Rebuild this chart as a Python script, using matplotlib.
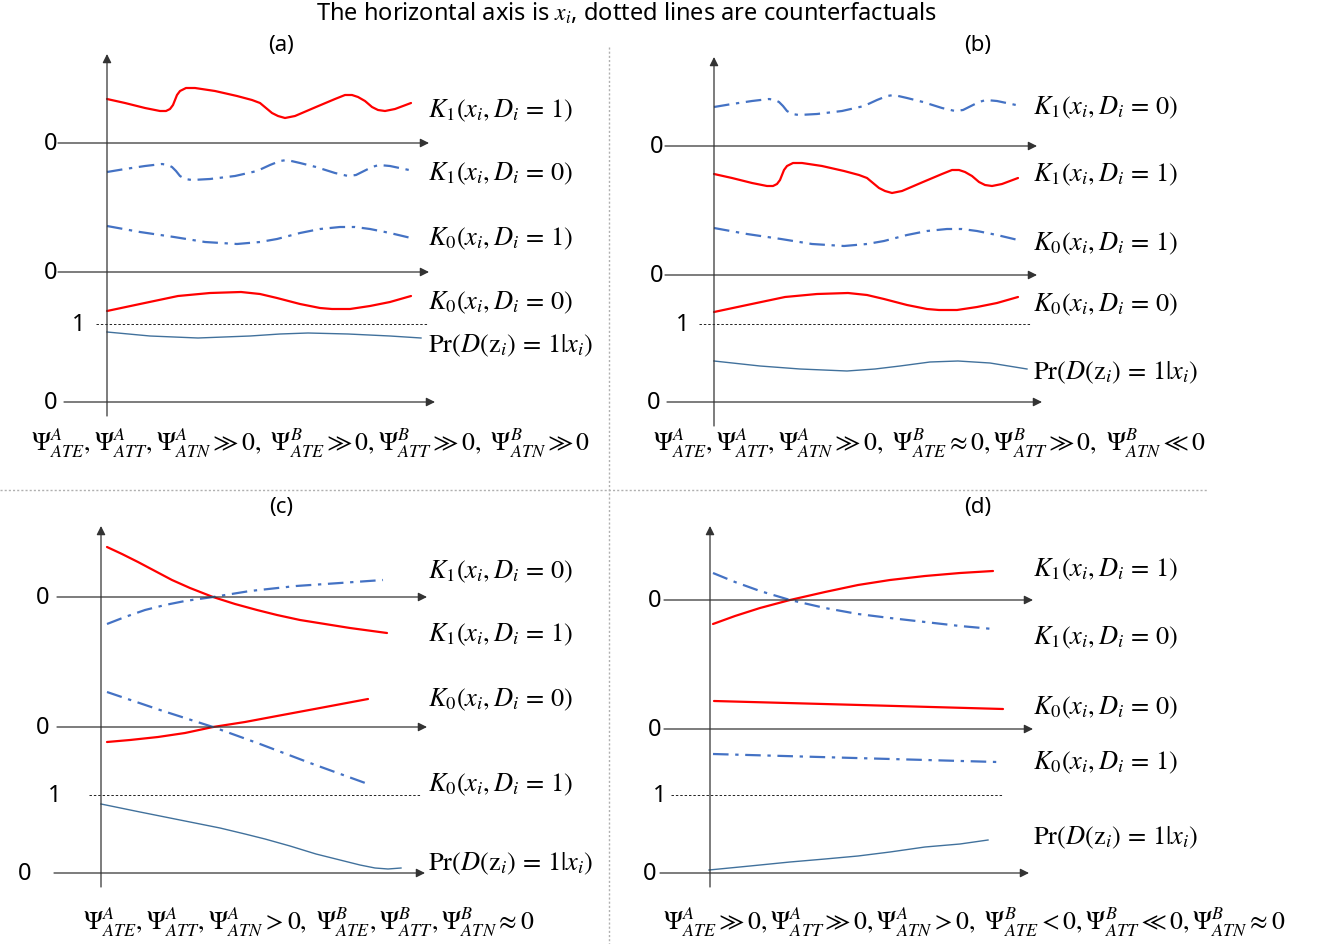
import matplotlib
matplotlib.use("Agg")
import matplotlib.pyplot as plt

plt.rcParams['font.family'] = ['Noto Sans', 'DejaVu Sans']
plt.rcParams['mathtext.fontset'] = 'stix'

# ---- curve data (x along the x_i axis, y = vertical position, image units) ----
# panel (a)
a_k1_d1 = [(107, 100), (125, 104), (145, 109), (160, 112), (166, 112), (170, 110), (173, 106),
           (175, 101), (177, 96), (180, 92), (186, 89), (195, 89), (215, 92), (237, 97),
           (252, 101), (260, 104), (266, 109), (272, 114), (278, 117), (285, 119), (295, 117),
           (316, 108), (335, 100), (345, 96), (352, 96), (358, 98), (365, 102), (372, 108),
           (378, 111), (385, 112), (395, 110), (411, 104)]
a_k1_d0 = [(107, 173), (125, 170), (145, 167), (162, 165), (168, 166), (172, 168), (176, 172),
           (180, 177), (185, 180), (192, 181), (210, 180), (235, 177), (257, 172), (270, 166),
           (280, 162), (287, 161), (300, 164), (316, 168), (335, 174), (348, 177), (356, 176),
           (364, 172), (372, 168), (379, 166), (390, 167), (409, 171)]
a_k0_d1 = [(107, 227), (140, 233), (174, 238), (205, 243), (237, 245), (260, 243), (277, 240),
           (300, 234), (320, 230), (340, 228), (355, 228), (370, 230), (390, 234), (411, 239)]
a_k0_d0 = [(107, 312), (140, 305), (178, 297), (210, 294), (241, 293), (260, 295), (277, 299),
           (300, 305), (320, 309), (332, 310), (350, 310), (370, 307), (390, 303), (411, 297)]
a_pr = [(107, 333), (150, 337), (198, 339), (250, 337), (280, 335), (308, 334), (348, 335),
        (390, 337), (421, 339)]

# panel (b)
b_k1_d0 = [(714, 108), (732, 105), (752, 102), (769, 100), (775, 101), (779, 103), (783, 107),
           (787, 112), (792, 115), (799, 116), (817, 115), (842, 112), (864, 107), (877, 101),
           (887, 97), (894, 96), (907, 99), (923, 103), (942, 109), (955, 112), (963, 111),
           (971, 107), (979, 103), (986, 101), (997, 102), (1016, 106)]
b_k1_d1 = [(714, 175), (732, 179), (752, 184), (767, 187), (773, 187), (777, 185), (780, 181),
           (782, 176), (784, 171), (787, 167), (793, 164), (802, 164), (822, 167), (844, 172),
           (859, 176), (867, 179), (873, 184), (879, 189), (885, 192), (892, 194), (902, 192),
           (923, 183), (942, 175), (952, 171), (959, 171), (965, 173), (972, 177), (979, 183),
           (985, 186), (992, 187), (1002, 185), (1018, 179)]
b_k0_d1 = [(714, 229), (747, 235), (781, 240), (812, 245), (844, 247), (867, 245), (884, 242),
           (907, 236), (927, 232), (947, 230), (962, 230), (977, 232), (997, 236), (1018, 241)]
b_k0_d0 = [(714, 313), (747, 306), (785, 298), (817, 295), (848, 294), (867, 296), (884, 300),
           (907, 306), (927, 310), (939, 311), (957, 311), (977, 308), (997, 304), (1018, 298)]
b_pr = [(714, 362), (760, 367), (800, 370), (847, 372), (875, 370), (900, 367), (930, 363),
        (958, 362), (990, 364), (1027, 370)]

# panel (c)
c_k1_d1 = [(107, 548), (122, 555), (138, 563), (155, 572), (172, 581), (190, 589), (213, 598),
           (235, 605), (257, 611), (277, 616), (300, 621), (325, 625), (350, 629), (387, 634)]
c_k1_d0 = [(107, 625), (125, 618), (145, 611), (165, 606), (185, 602), (213, 598), (250, 592),
           (296, 587), (340, 584), (383, 581)]
c_k0_d0 = [(107, 743), (130, 741), (158, 738), (185, 734), (213, 728), (245, 723), (277, 717),
           (320, 709), (368, 700)]
c_k0_d1 = [(107, 693), (160, 711), (213, 728), (260, 745), (310, 764), (368, 785)]
c_pr = [(101, 805), (140, 813), (180, 821), (220, 829), (245, 835), (265, 840), (290, 847),
        (316, 855), (340, 861), (360, 866), (375, 869), (388, 870), (401, 869)]

# panel (d)
d_k1_d1 = [(713, 625), (735, 617), (760, 609), (790, 601), (825, 593), (858, 586), (890, 581),
           (925, 577), (960, 574), (993, 572)]
d_k1_d0 = [(713, 574), (735, 583), (760, 592), (790, 601), (825, 609), (858, 615), (890, 619),
           (925, 623), (960, 627), (993, 630)]
d_k0_d0 = [(714, 702), (860, 706), (1003, 710)]
d_k0_d1 = [(713, 755), (855, 759), (997, 763)]
d_pr = [(709, 871), (750, 867), (790, 863), (825, 860), (858, 857), (890, 853), (925, 848),
        (960, 845), (988, 841)]

# ---- text ----
title = 'The horizontal axis is $x_i$, dotted lines are counterfactuals'
panel_names = ['(a)', '(b)', '(c)', '(d)']
lab_k1_d1 = r'$K_1(x_i, D_i\,=\,1)$'
lab_k1_d0 = r'$K_1(x_i, D_i\,=\,0)$'
lab_k0_d1 = r'$K_0(x_i, D_i\,=\,1)$'
lab_k0_d0 = r'$K_0(x_i, D_i\,=\,0)$'
lab_pr = r'$\mathrm{Pr}(D(\mathrm{z}_i)\,=\,1|x_i)$'
formulas = [
    r'$\Psi^A_{ATE}, \Psi^A_{ATT}, \Psi^A_{ATN} \gg 0,\ \Psi^B_{ATE} \gg 0, \Psi^B_{ATT} \gg 0,\ \Psi^B_{ATN} \gg 0$',
    r'$\Psi^A_{ATE}, \Psi^A_{ATT}, \Psi^A_{ATN} \gg 0,\ \Psi^B_{ATE} \approx 0, \Psi^B_{ATT} \gg 0,\ \Psi^B_{ATN} \ll 0$',
    r'$\Psi^A_{ATE}, \Psi^A_{ATT}, \Psi^A_{ATN} > 0,\ \Psi^B_{ATE}, \Psi^B_{ATT}, \Psi^B_{ATN} \approx 0$',
    r'$\Psi^A_{ATE} \gg 0, \Psi^A_{ATT} \gg 0, \Psi^A_{ATN} > 0,\ \Psi^B_{ATE} < 0, \Psi^B_{ATT} \ll 0, \Psi^B_{ATN} \approx 0$',
]

RED = '#ff0000'
BLUE = '#4472c4'
PRC = '#41719c'
AXC = '#333333'
DASHDOT = (0, (7, 3, 1.5, 3))

fig = plt.figure(figsize=(13.17, 9.45), dpi=100)
ax = fig.add_axes([0, 0, 1, 1])
ax.set_xlim(0, 1317)
ax.set_ylim(945, 0)
ax.axis('off')


def curve(pts, kind):
    xs = [p[0] for p in pts]
    ys = [p[1] for p in pts]
    if kind == 'red':
        ax.plot(xs, ys, color=RED, lw=1.6, solid_capstyle='round', solid_joinstyle='round')
    elif kind == 'blue':
        ax.plot(xs, ys, color=BLUE, lw=1.6, ls=DASHDOT)
    else:
        ax.plot(xs, ys, color=PRC, lw=1.0, solid_joinstyle='round')


def arrow(x0, y0, x1, y1):
    ax.annotate('', xy=(x1, y1), xytext=(x0, y0),
                arrowprops=dict(arrowstyle='-|>', color=AXC, lw=0.9,
                                mutation_scale=13, shrinkA=0, shrinkB=0))


def panel(vx, vtop, vbot, hlines, one, labels, lab_x):
    arrow(vx, vbot, vx, vtop)
    for (hy, hx0, hx1, zx) in hlines:
        arrow(hx0, hy, hx1, hy)
        ax.text(zx, hy, '0', ha='center', va='center', fontsize=17)
    oy, ox0, ox1, onx = one
    ax.plot([ox0, ox1], [oy, oy], color='#222222', lw=0.7, ls=(0, (2.5, 2)))
    ax.text(onx, oy, '1', ha='center', va='center', fontsize=17)
    for (ly, txt) in labels:
        ax.text(lab_x, ly, txt, ha='left', va='center', fontsize=19)


ax.text(626, 14, title, ha='center', va='center', fontsize=17)
for (px, py), name in zip([(281, 45), (978, 45), (281, 508), (978, 508)], panel_names):
    ax.text(px, py, name, ha='center', va='center', fontsize=16)

# separators
ax.plot([609, 609], [48, 945], color='#b0b0b0', lw=1.0, ls=(0, (1.5, 1.5)))
ax.plot([0, 1207], [491, 491], color='#b0b0b0', lw=1.0, ls=(0, (1.5, 1.5)))

# panel (a)
panel(107, 55, 417, [(144, 58, 429, 51), (273, 58, 429, 51), (403, 64, 435, 51)],
      (325, 96, 428, 79),
      [(110, lab_k1_d1), (173, lab_k1_d0), (238, lab_k0_d1), (302, lab_k0_d0), (345, lab_pr)], 428)
curve(a_k1_d1, 'red')
curve(a_k1_d0, 'blue')
curve(a_k0_d1, 'blue')
curve(a_k0_d0, 'red')
curve(a_pr, 'pr')

# panel (b)
panel(714, 58, 427, [(147, 665, 1037, 657), (276, 665, 1037, 657), (403, 667, 1042, 654)],
      (325, 699, 1031, 683),
      [(107, lab_k1_d0), (174, lab_k1_d1), (243, lab_k0_d1), (304, lab_k0_d0), (372, lab_pr)], 1033)
curve(b_k1_d0, 'blue')
curve(b_k1_d1, 'red')
curve(b_k0_d1, 'blue')
curve(b_k0_d0, 'red')
curve(b_pr, 'pr')

# panel (c)
panel(101, 527, 888, [(598, 57, 427, 43), (728, 57, 427, 43), (874, 54, 425, 25)],
      (796, 89, 421, 55),
      [(571, lab_k1_d0), (634, lab_k1_d1), (699, lab_k0_d0), (784, lab_k0_d1), (863, lab_pr)], 428)
curve(c_k1_d1, 'red')
curve(c_k1_d0, 'blue')
curve(c_k0_d0, 'red')
curve(c_k0_d1, 'blue')
curve(c_pr, 'pr')

# panel (d)
panel(710, 527, 888, [(601, 664, 1033, 655), (730, 664, 1033, 655), (874, 660, 1029, 650)],
      (796, 671, 1003, 660),
      [(569, lab_k1_d1), (637, lab_k1_d0), (707, lab_k0_d0), (762, lab_k0_d1), (837, lab_pr)], 1033)
curve(d_k1_d1, 'red')
curve(d_k1_d0, 'blue')
curve(d_k0_d0, 'red')
curve(d_k0_d1, 'blue')
curve(d_pr, 'pr')

# bottom conditions
for (fx, fy), f in zip([(311, 443), (929, 443), (309, 922), (974, 922)], formulas):
    ax.text(fx, fy, f, ha='center', va='center', fontsize=18.5)

fig.savefig('out.png', dpi=100)
